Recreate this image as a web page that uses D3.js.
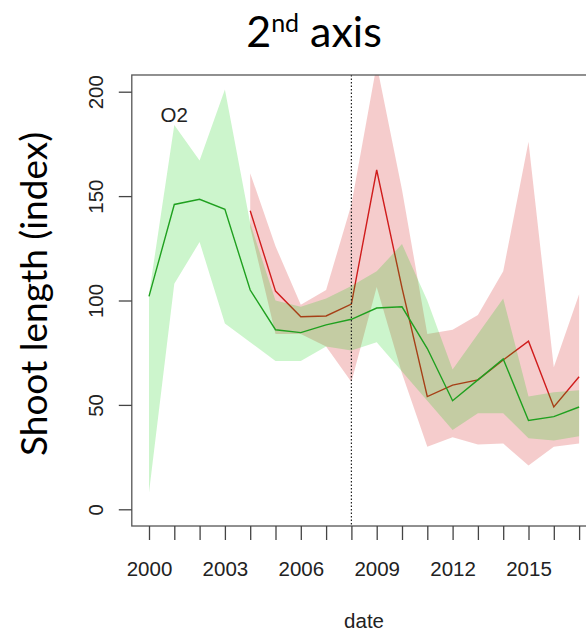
<!DOCTYPE html>
<html lang="en">
<head>
<meta charset="utf-8">
<title>2nd axis</title>
<script type="text/javascript" src="https://cdn.jsdelivr.net/npm/d3@7/dist/d3.min.js"></script>
<style>
    body { margin: 0; background: #fff; }
    .axis path.domain { display: none; }
    .axis line { stroke: #444; stroke-width: 1.3px; }
    .axis text { font-family: "Liberation Sans", Arial, sans-serif; font-size: 20.5px; fill: #222; }
</style>
</head>
<body>
<div id="chart"></div>
<script type="text/javascript">

var years = [2000, 2001, 2002, 2003, 2004, 2005, 2006, 2007, 2008,
             2009, 2010, 2011, 2012, 2013, 2014, 2015, 2016, 2017];

// green series (whole period)
var greenMean  = [102, 146, 148.5, 143.7, 105, 86, 84.6, 88.3, 91, 96.4, 97, 77, 52, 62, 72, 42.5, 44.4, 49];
var greenUpper = [103, 184, 167, 201, 137, 100, 97, 101, 107, 114, 127, 100, 67, 84, 101, 54, 56, 57];
var greenLower = [8, 108, 128, 89, 80, 71, 71, 78, 76, 80, 66, 52, 38, 46, 46, 34, 33, 35];

// red series (starts 2004)
var redMean  = [null, null, null, null, 143, 104.5, 92.2, 92.6, 98.3, 162.5, 106, 54, 59.5, 62, 71.5, 80.5, 49, 63.5];
var redUpper = [null, null, null, null, 161, 126, 98, 105, 146, 213, 153, 84, 86, 93, 114, 176, 68, 103];
var redLower = [null, null, null, null, 135, 84, 84, 78, 61, 106.5, 65, 30, 34.5, 31, 31.5, 21, 30, 31.5];

var yTicks = [0, 50, 100, 150, 200];
var xLabelYears = [2000, 2003, 2006, 2009, 2012, 2015];
var markYear = 2008;

var width = 586, height = 632;

var x_scale = d3.scaleLinear().domain([2000, 2017]).range([149, 579.1]);
var y_scale = d3.scaleLinear().domain([0, 200]).range([509.3, 91.7]);

// R style 4% padding round the data range
var x0 = x_scale(1999.32), x1 = x_scale(2017.68);
var yTop = y_scale(208), yBot = y_scale(-8);

var svg = d3.select("#chart").append("svg")
    .attr("width", width)
    .attr("height", height);

svg.append("clipPath").attr("id", "plotclip")
  .append("rect")
    .attr("x", x0).attr("y", yTop)
    .attr("width", x1 - x0).attr("height", yBot - yTop);

var rows = years.map(function(yr, i) {
    return { year: yr, gm: greenMean[i], gu: greenUpper[i], gl: greenLower[i],
             rm: redMean[i], ru: redUpper[i], rl: redLower[i] };
});

var plot = svg.append("g").attr("clip-path", "url(#plotclip)");

var redArea = d3.area()
    .defined(function(d) { return d.ru != null; })
    .x(function(d) { return x_scale(d.year); })
    .y0(function(d) { return y_scale(d.rl); })
    .y1(function(d) { return y_scale(d.ru); });

var greenArea = d3.area()
    .x(function(d) { return x_scale(d.year); })
    .y0(function(d) { return y_scale(d.gl); })
    .y1(function(d) { return y_scale(d.gu); });

var redLine = d3.line()
    .defined(function(d) { return d.rm != null; })
    .x(function(d) { return x_scale(d.year); })
    .y(function(d) { return y_scale(d.rm); });

var greenLine = d3.line()
    .x(function(d) { return x_scale(d.year); })
    .y(function(d) { return y_scale(d.gm); });

plot.append("path").datum(rows)
    .attr("d", redArea)
    .style("fill", "rgba(205,0,0,0.2)");

plot.append("path").datum(rows)
    .attr("d", redLine)
    .style("fill", "none")
    .style("stroke", "#d01c1c")
    .style("stroke-width", 1.4);

plot.append("path").datum(rows)
    .attr("d", greenArea)
    .style("fill", "rgba(0,205,0,0.2)");

plot.append("path").datum(rows)
    .attr("d", greenLine)
    .style("fill", "none")
    .style("stroke", "#1fa01f")
    .style("stroke-width", 1.4);

// dotted marker line
svg.append("line")
    .attr("x1", x_scale(markYear)).attr("x2", x_scale(markYear))
    .attr("y1", yTop).attr("y2", yBot)
    .style("stroke", "#222")
    .style("stroke-width", 1.2)
    .style("stroke-dasharray", "1.5,2");

// box
svg.append("rect")
    .attr("x", x0).attr("y", yTop)
    .attr("width", x1 - x0).attr("height", yBot - yTop)
    .style("fill", "none")
    .style("stroke", "#555")
    .style("stroke-width", 1.3);

// axes
var xAxis = d3.axisBottom(x_scale)
    .tickValues(years)
    .tickSize(14)
    .tickPadding(21)
    .tickFormat(function(d) { return xLabelYears.indexOf(d) >= 0 ? d : ""; });

svg.append("g")
    .attr("class", "axis")
    .attr("transform", "translate(0," + yBot + ")")
    .call(xAxis);

var yAxis = d3.axisLeft(y_scale)
    .tickValues(yTicks)
    .tickSize(13);

svg.append("g")
    .attr("class", "axis")
    .attr("transform", "translate(" + x0 + ",0)")
    .call(yAxis)
    .selectAll("text")
    .attr("x", null)
    .attr("dy", null)
    .attr("text-anchor", "middle")
    .attr("transform", "translate(-29,0) rotate(-90)");

// labels
svg.append("text")
    .attr("x", (x0 + x1) / 2)
    .attr("y", 628)
    .attr("text-anchor", "middle")
    .style("font-family", "Liberation Sans, Arial, sans-serif")
    .style("font-size", "20.5px")
    .style("fill", "#222")
    .text("date");

svg.append("text")
    .attr("x", x_scale(2001))
    .attr("y", y_scale(189))
    .attr("text-anchor", "middle")
    .attr("dominant-baseline", "central")
    .style("font-family", "Liberation Sans, Arial, sans-serif")
    .style("font-size", "20.5px")
    .style("fill", "#222")
    .text("O2");

svg.append("text")
    .attr("transform", "translate(47,294) rotate(-90)")
    .attr("text-anchor", "middle")
    .style("font-family", "Lato, 'Open Sans', sans-serif")
    .style("font-size", "37px")
    .style("fill", "#000")
    .text("Shoot length (index)");

var title = svg.append("text")
    .attr("x", 314)
    .attr("y", 47)
    .attr("text-anchor", "middle")
    .style("font-family", "Lato, 'Open Sans', sans-serif")
    .style("font-size", "43px")
    .style("fill", "#000");
title.append("tspan").text("2");
title.append("tspan").attr("dy", -15).style("font-size", "25px").text("nd");
title.append("tspan").attr("dy", 15).text(" axis");

</script>
</body>
</html>
